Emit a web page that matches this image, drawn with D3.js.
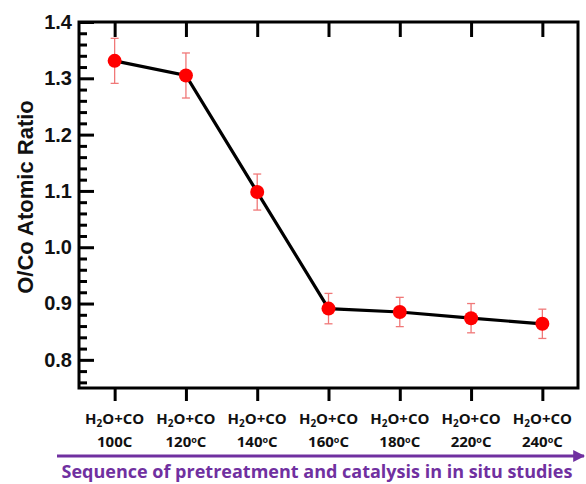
<!DOCTYPE html>
<html>
<head>
<meta charset="utf-8">
<script src="https://cdn.jsdelivr.net/npm/d3@7"></script>
<style>
  body { margin: 0; background: #fff; }
  svg { display: block; }
</style>
</head>
<body>
<svg id="chart"></svg>
<script>
// data
var TEMPS = ["100C", "120oC", "140oC", "160oC", "180oC", "220oC", "240oC"];
var RATIO = [1.331, 1.305, 1.098, 0.891, 0.885, 0.874, 0.864];
var ERR = [0.040, 0.040, 0.032, 0.027, 0.026, 0.026, 0.026];
var Y_TICKS = [0.8, 0.9, 1.0, 1.1, 1.2, 1.3, 1.4];

var W = 586, H = 484;
var margin = {left: 79, right: 8, top: 22, bottom: 96};
var PURPLE = "#7030a0";
var LABEL_FONT = "'Open Sans', Lato, sans-serif";

var svg = d3.select("#chart").attr("width", W).attr("height", H);

var x = d3.scaleLinear().domain([-0.5, TEMPS.length - 0.5]).range([margin.left, W - margin.right]);
var y = d3.scaleLinear().domain([0.75, 1.4]).range([H - margin.bottom, margin.top]);

var g = svg.append("g");

function thick(s) {
  s.select(".domain").remove();
  s.selectAll("line").attr("stroke-width", 3);
}

// minor y ticks (inside)
var minor = d3.range(0.76, 1.4, 0.02).filter(function(v) {
  return Math.abs(v * 10 - Math.round(v * 10)) > 0.01;
});
g.append("g")
  .attr("transform", "translate(" + margin.left + ",0)")
  .call(d3.axisRight(y).tickValues(minor).tickSize(8).tickFormat(""))
  .call(thick);

// major y ticks + labels
var yAxis = g.append("g")
  .attr("transform", "translate(" + margin.left + ",0)")
  .call(d3.axisLeft(y).tickValues(Y_TICKS).tickSize(0).tickPadding(7).tickFormat(d3.format(".1f")));
yAxis.select(".domain").remove();
yAxis.selectAll("text").attr("font-family", "Liberation Sans, Arial, sans-serif")
  .attr("font-weight", "bold").attr("font-size", 20).attr("fill", "#111");
g.append("g")
  .attr("transform", "translate(" + margin.left + ",0)")
  .call(d3.axisRight(y).tickValues(Y_TICKS).tickSize(15).tickFormat(""))
  .call(thick);

// top ticks (inside) and bottom ticks (outside)
g.append("g")
  .attr("transform", "translate(0," + margin.top + ")")
  .call(d3.axisBottom(x).tickValues(d3.range(TEMPS.length)).tickSize(15).tickFormat(""))
  .call(thick);
g.append("g")
  .attr("transform", "translate(0," + (H - margin.bottom) + ")")
  .call(d3.axisBottom(x).tickValues(d3.range(TEMPS.length)).tickSize(13).tickFormat(""))
  .call(thick);

// frame
g.append("rect")
  .attr("x", margin.left).attr("y", margin.top)
  .attr("width", W - margin.right - margin.left)
  .attr("height", H - margin.bottom - margin.top)
  .attr("fill", "none").attr("stroke", "#000").attr("stroke-width", 3);

// x labels: H2O+CO on one line, temperature below (separate text elements)
function xtext(cls, yy) {
  return g.selectAll("." + cls).data(TEMPS).enter().append("text")
    .attr("class", cls)
    .attr("x", function(d, i) { return x(i); })
    .attr("y", yy)
    .attr("text-anchor", "middle")
    .attr("font-family", LABEL_FONT)
    .attr("font-weight", "bold").attr("font-size", 15).attr("fill", "#111");
}
xtext("xlab1", 424).each(function() {
  var t = d3.select(this);
  t.append("tspan").text("H");
  t.append("tspan").attr("font-size", 10).attr("dy", 3).text("2");
  t.append("tspan").attr("dy", -3).text("O+CO");
});
xtext("xlab2", 447).each(function(d) {
  var t = d3.select(this);
  if (d.indexOf("o") >= 0) {
    var p = d.split("o");
    t.append("tspan").text(p[0]);
    t.append("tspan").attr("font-size", 9).attr("dy", -4).text("o");
    t.append("tspan").attr("dy", 4).text(p[1]);
  } else {
    t.text(d);
  }
});

// y title
svg.append("text")
  .attr("transform", "translate(33,197) rotate(-90)")
  .attr("text-anchor", "middle")
  .attr("font-family", "Liberation Sans, Arial, sans-serif")
  .attr("font-weight", "bold").attr("font-size", 22).attr("fill", "#111")
  .text("O/Co Atomic Ratio");

// error bars
var eb = g.append("g").attr("stroke", "#f07878").attr("stroke-width", 1.3);
RATIO.forEach(function(v, i) {
  var cx = x(i);
  eb.append("line").attr("x1", cx).attr("x2", cx).attr("y1", y(v - ERR[i])).attr("y2", y(v + ERR[i]));
  eb.append("line").attr("x1", cx - 4).attr("x2", cx + 4).attr("y1", y(v - ERR[i])).attr("y2", y(v - ERR[i]));
  eb.append("line").attr("x1", cx - 4).attr("x2", cx + 4).attr("y1", y(v + ERR[i])).attr("y2", y(v + ERR[i]));
});

// line
var line = d3.line().x(function(d, i) { return x(i); }).y(function(d) { return y(d); });
g.append("path").datum(RATIO).attr("d", line)
  .attr("fill", "none").attr("stroke", "#000").attr("stroke-width", 3.2);

// markers
g.selectAll(".pt").data(RATIO).enter().append("circle")
  .attr("class", "pt")
  .attr("cx", function(d, i) { return x(i); })
  .attr("cy", function(d) { return y(d); })
  .attr("r", 7).attr("fill", "#ff0000");

// purple arrow + caption
var defs = svg.append("defs");
defs.append("marker").attr("id", "arr")
  .attr("viewBox", "0 0 10 10").attr("refX", 9).attr("refY", 5)
  .attr("markerWidth", 4).attr("markerHeight", 4).attr("orient", "auto")
  .append("path").attr("d", "M0,0 L10,5 L0,10 z").attr("fill", PURPLE);
svg.append("line")
  .attr("x1", 57).attr("x2", 584).attr("y1", 456).attr("y2", 456)
  .attr("stroke", PURPLE).attr("stroke-width", 3).attr("marker-end", "url(#arr)");
svg.append("text")
  .attr("x", 317).attr("y", 478)
  .attr("text-anchor", "middle")
  .attr("font-family", LABEL_FONT)
  .attr("font-weight", "bold").attr("font-size", 18).attr("fill", PURPLE)
  .text("Sequence of pretreatment and catalysis in in situ studies");
</script>
</body>
</html>
